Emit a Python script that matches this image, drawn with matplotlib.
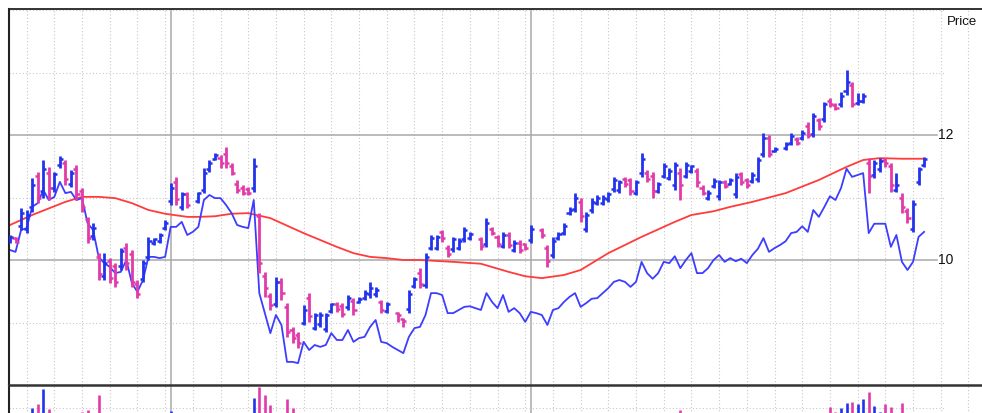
import numpy as np
import matplotlib
matplotlib.use("Agg")
import matplotlib.pyplot as plt

# daily bars, None = no bar drawn that day
highs = [10.40, 10.37, 10.83, 10.80, 11.31, 11.41, 11.60, 11.49, 11.41, 11.66,
         11.60, 11.44, 11.52, 11.15, 10.69, 10.59, 10.11, 10.11, 10.03, 9.95,
         10.19, 10.27, 10.16, 9.68, 10.00, 10.37, 10.35, 10.43, 10.64, 11.23,
         11.33, 11.09, 11.09, None, 11.09, 11.47, 11.60, 11.71, 11.68, 11.81,
         11.55, 11.28, 11.20, 11.17, 11.63, 10.75, 9.81, 9.47, 9.73, 9.71,
         9.31, 8.93, 8.85, 9.28, 9.47, 9.15, 9.17, 9.15, 9.31, 9.33,
         9.31, 9.44, 9.39, 9.41, 9.52, 9.65, 9.57, 9.36, 9.33, None,
         9.17, 9.07, 9.52, 9.73, 9.87, 10.11, 10.40, 10.40, 10.48, 10.24,
         10.37, 10.35, 10.53, 10.45, None, 10.37, 10.67, 10.53, 10.40, 10.45,
         10.45, 10.32, 10.32, 10.27, 10.56, None, 10.51, 10.24, 10.37, 10.45,
         10.59, 10.85, 11.07, 10.99, 10.77, 10.99, 11.04, 11.04, 11.09, 11.33,
         11.28, 11.33, 11.31, 11.28, 11.71, 11.44, 11.41, 11.25, 11.55, 11.47,
         11.57, 11.47, 11.57, 11.52, 11.47, 11.20, 11.12, 11.31, 11.28, 11.28,
         11.31, 11.39, 11.41, 11.31, 11.41, 11.65, 12.03, 12.00, 11.81, None,
         11.89, 12.03, 11.97, 12.08, 12.21, 12.35, 12.27, 12.53, 12.59, 12.51,
         12.69, 13.04, 12.85, 12.67, 12.67, 11.63, 11.60, 11.63, 11.63, 11.55,
         11.39, 11.07, 10.83, 10.96, 11.49, 11.65]
lows = [10.27, 10.27, 10.48, 10.43, 10.77, 10.91, 10.99, 10.96, 11.09, 11.47,
        11.20, 11.17, 10.96, 10.77, 10.27, 10.32, 9.68, 9.68, 9.63, 9.57,
        9.84, 9.84, 9.57, 9.39, 9.65, 10.00, 10.24, 10.27, 10.48, 10.88,
        10.88, 10.80, 10.83, None, 10.91, 11.07, 11.41, 11.60, 11.47, 11.47,
        11.36, 11.07, 11.04, 11.04, 11.09, 9.79, 9.41, 9.20, 9.25, 9.36,
        8.77, 8.67, 8.59, 8.96, 9.01, 8.88, 8.93, 8.85, 9.15, 9.17,
        9.09, 9.20, 9.12, 9.31, 9.36, 9.39, 9.41, 9.15, 9.15, None,
        9.01, 8.93, 9.15, 9.55, 9.55, 9.55, 10.16, 10.16, 10.29, 10.05,
        10.13, 10.16, 10.29, 10.32, None, 10.16, 10.21, 10.40, 10.21, 10.19,
        10.19, 10.13, 10.11, 10.16, 10.27, None, 10.35, 9.89, 10.03, 10.32,
        10.40, 10.72, 10.77, 10.61, 10.45, 10.75, 10.88, 10.88, 10.93, 11.09,
        11.07, 11.17, 11.04, 11.04, 11.33, 11.25, 10.99, 11.07, 11.31, 11.28,
        11.12, 10.96, 11.31, 11.39, 11.17, 11.04, 10.96, 11.15, 10.96, 11.15,
        11.20, 10.99, 11.20, 11.15, 11.23, 11.25, 11.65, 11.65, 11.73, None,
        11.76, 11.84, 11.84, 11.92, 11.95, 11.97, 12.08, 12.21, 12.45, 12.40,
        12.45, 12.64, 12.45, 12.48, 12.51, 11.07, 11.31, 11.41, 11.49, 11.09,
        11.09, 10.75, 10.59, 10.45, 11.20, 11.49]
opens = [10.30, 10.35, 10.55, 10.50, 10.85, 11.35, 11.10, 11.40, 11.15, 11.52,
         11.55, 11.22, 11.45, 11.10, 10.65, 10.38, 10.05, 9.75, 9.98, 9.90,
         9.90, 10.20, 10.10, 9.62, 9.70, 10.05, 10.27, 10.30, 10.52, 10.95,
         11.25, 10.85, 11.05, None, 10.95, 11.12, 11.45, 11.62, 11.64, 11.70,
         11.50, 11.22, 11.15, 11.14, 11.15, 10.70, 9.75, 9.42, 9.30, 9.65,
         9.25, 8.88, 8.80, 9.00, 9.40, 8.92, 8.98, 8.90, 9.18, 9.30,
         9.27, 9.25, 9.35, 9.33, 9.40, 9.45, 9.45, 9.33, 9.18, None,
         9.15, 9.05, 9.22, 9.58, 9.80, 9.60, 10.20, 10.20, 10.45, 10.20,
         10.18, 10.20, 10.33, 10.35, None, 10.33, 10.25, 10.50, 10.37, 10.22,
         10.40, 10.16, 10.28, 10.25, 10.32, None, 10.48, 10.20, 10.08, 10.35,
         10.43, 10.75, 10.82, 10.93, 10.50, 10.80, 10.92, 10.92, 10.97, 11.14,
         11.12, 11.30, 11.28, 11.08, 11.40, 11.40, 11.35, 11.10, 11.35, 11.32,
         11.20, 11.40, 11.35, 11.42, 11.42, 11.15, 11.00, 11.18, 11.02, 11.25,
         11.22, 11.05, 11.37, 11.28, 11.26, 11.30, 11.70, 11.95, 11.75, None,
         11.79, 11.88, 11.94, 11.95, 12.15, 12.02, 12.24, 12.26, 12.55, 12.48,
         12.50, 12.70, 12.80, 12.52, 12.54, 11.55, 11.36, 11.45, 11.60, 11.50,
         11.12, 11.00, 10.78, 10.50, 11.25, 11.52]
closes = [10.37, 10.29, 10.75, 10.72, 11.20, 11.00, 11.45, 11.15, 11.38, 11.62,
          11.30, 11.40, 11.05, 10.85, 10.35, 10.52, 9.78, 9.95, 9.72, 9.65,
          10.15, 9.95, 9.65, 9.45, 9.95, 10.30, 10.33, 10.40, 10.60, 11.15,
          10.98, 11.05, 10.88, None, 11.07, 11.40, 11.55, 11.68, 11.55, 11.55,
          11.40, 11.12, 11.08, 11.07, 11.50, 9.95, 9.55, 9.28, 9.65, 9.48,
          8.85, 8.75, 8.68, 9.20, 9.10, 9.12, 9.12, 9.12, 9.29, 9.22,
          9.14, 9.40, 9.20, 9.38, 9.48, 9.55, 9.52, 9.20, 9.30, None,
          9.12, 9.02, 9.45, 9.70, 9.62, 10.05, 10.35, 10.37, 10.35, 10.10,
          10.33, 10.30, 10.48, 10.42, None, 10.22, 10.60, 10.44, 10.26, 10.40,
          10.24, 10.28, 10.16, 10.20, 10.50, None, 10.40, 9.98, 10.30, 10.42,
          10.55, 10.80, 11.00, 10.70, 10.72, 10.93, 11.00, 11.00, 11.05, 11.28,
          11.25, 11.22, 11.10, 11.25, 11.62, 11.30, 11.10, 11.22, 11.50, 11.43,
          11.52, 11.20, 11.52, 11.50, 11.25, 11.08, 11.08, 11.27, 11.25, 11.18,
          11.28, 11.33, 11.25, 11.20, 11.36, 11.60, 11.95, 11.70, 11.78, None,
          11.85, 11.98, 11.88, 12.04, 12.00, 12.30, 12.15, 12.50, 12.50, 12.44,
          12.62, 12.85, 12.50, 12.55, 12.62, 11.35, 11.55, 11.58, 11.55, 11.20,
          11.20, 10.85, 10.67, 10.90, 11.45, 11.62]

# relative strength line (drawn on the price scale)
rs_line = [10.16, 10.13, 10.48, 10.51, 10.85, 10.91, 11.12, 10.96, 11.01, 11.25,
           11.07, 11.09, 10.96, 10.99, 10.59, 10.48, 10.05, 9.95, 9.89, 9.79,
           9.81, 10.00, 9.63, 9.49, 9.68, 10.05, 10.05, 10.03, 10.05, 10.53,
           10.53, 10.61, 10.40, 10.45, 10.53, 10.96, 11.04, 10.99, 10.99, 10.88,
           10.75, 10.56, 10.53, 10.51, 10.96, 9.47, 9.15, 8.83, 9.12, 8.96,
           8.37, 8.37, 8.35, 8.69, 8.56, 8.64, 8.61, 8.64, 8.83, 8.72,
           8.72, 8.88, 8.69, 8.75, 8.77, 8.93, 9.04, 8.69, 8.67, 8.61,
           8.56, 8.51, 8.77, 8.91, 8.93, 9.12, 9.47, 9.47, 9.44, 9.15,
           9.15, 9.20, 9.25, 9.26, 9.23, 9.20, 9.47, 9.33, 9.23, 9.44,
           9.17, 9.23, 9.15, 9.01, 9.17, 9.15, 9.12, 8.96, 9.20, 9.23,
           9.33, 9.41, 9.47, 9.25, 9.31, 9.38, 9.39, 9.47, 9.55, 9.65,
           9.68, 9.65, 9.57, 9.65, 9.97, 9.79, 9.70, 9.79, 9.97, 9.95,
           10.06, 9.87, 10.00, 10.11, 9.79, 9.79, 9.87, 10.00, 10.08, 9.97,
           10.03, 9.98, 10.02, 9.95, 10.08, 10.18, 10.35, 10.13, 10.19, 10.24,
           10.30, 10.43, 10.45, 10.54, 10.45, 10.80, 10.69, 10.85, 11.02, 10.96,
           11.15, 11.46, 11.33, 11.36, 11.39, 10.43, 10.58, 10.58, 10.58, 10.21,
           10.40, 9.97, 9.84, 9.97, 10.37, 10.45]

# moving average, read at these bar numbers
ma_bars = [1, 5, 11, 14, 17, 20, 23, 26, 29, 33, 35, 38, 41, 44, 48, 54, 60, 63,
           66, 69, 72, 75, 81, 86, 91, 94, 97, 101, 104, 109, 115, 121, 124, 128,
           131, 135, 141, 147, 152, 155, 158, 162, 166]
ma_vals = [10.56, 10.72, 10.93, 11.01, 11.01, 10.99, 10.91, 10.80, 10.74, 10.69,
           10.69, 10.70, 10.74, 10.75, 10.67, 10.43, 10.21, 10.11, 10.05, 10.03,
           10.00, 10.00, 9.97, 9.94, 9.81, 9.74, 9.71, 9.76, 9.84, 10.11, 10.37,
           10.61, 10.72, 10.78, 10.85, 10.93, 11.07, 11.28, 11.49, 11.60, 11.63,
           11.62, 11.62]

# volume (thousands), only the tops show in the panel
volume = [700, 640, 780, 820, 900, 917, 983, 896, 760, 680,
          720, 610, 790, 883, 891, 820, 957, 840, 760, 700,
          650, 720, 810, 780, 690, 740, 560, 600, 650, 887,
          820, 700, 640, None, 580, 760, 690, 620, 600, 720,
          680, 740, 700, 660, 943, 991, 957, 913, 860, 830,
          939, 900, 850, 800, 840, 760, 700, 690, 620, 640,
          610, 680, 650, 590, 620, 700, 560, 680, 600, None,
          540, 560, 720, 760, 780, 850, 820, 700, 660, 640,
          610, 580, 640, 560, None, 600, 720, 580, 620, 600,
          640, 560, 600, 520, 700, None, 560, 760, 700, 620,
          660, 740, 800, 760, 700, 680, 620, 600, 640, 760,
          700, 660, 690, 620, 820, 720, 780, 640, 700, 660,
          760, 891, 740, 640, 700, 680, 620, 700, 720, 660,
          600, 740, 680, 640, 620, 760, 850, 820, 600, None,
          640, 720, 660, 700, 760, 840, 780, 860, 904, 883,
          900, 922, 926, 917, 939, 970, 909, 883, 917, 904,
          860, 922, 850, 870, 820, 760]

week_lines = list(range(4, 176, 5))
quarter_lines = [30, 95]
major_prices = [10, 12]
minor_prices = [9, 11, 13, 14]

blue = "#2233ee"
pink = "#e23aa8"

def arr(v):
    return np.array([np.nan if a is None else a for a in v], dtype=float)

h, l, o, c = arr(highs), arr(lows), arr(opens), arr(closes)
vol = arr(volume)
x = np.arange(1, len(highs) + 1)
ok = ~np.isnan(h)
cols = np.where(c > o, blue, pink)

W, H = 982, 413
fig = plt.figure(figsize=(W / 100, H / 100), dpi=100)
left = 9 / W
ax = fig.add_axes([left, 28 / H, 1 - left, 376 / H])
vax = fig.add_axes([left, (413 - 615) / H, 1 - left, 230 / H])
vax.patch.set_visible(False)
ax.set_zorder(2)
ax.patch.set_visible(False)
fig.patch.set_facecolor("white")

xlo, xhi = 0.82, 176.45
for a in (ax, vax):
    a.set_xlim(xlo, xhi)
    a.set_xticks([])
    a.set_yticks([])
    a.spines["right"].set_visible(False)
ax.set_ylim(8.0, 14.016)
vax.set_ylim(0, 1000)

ax.spines["top"].set_color("#222222")
ax.spines["top"].set_linewidth(1.3)
ax.spines["left"].set_color("#222222")
ax.spines["left"].set_linewidth(1.5)
ax.spines["bottom"].set_color("#333333")
ax.spines["bottom"].set_linewidth(1.8)
vax.spines["top"].set_visible(False)
vax.spines["bottom"].set_visible(False)
vax.spines["left"].set_color("#222222")
vax.spines["left"].set_linewidth(1.5)

dot = (0, (1, 2))
for a in (ax, vax):
    for wk in week_lines:
        a.axvline(wk, color="#c8c8c8", lw=0.8, ls=dot, zorder=0)
    for q in quarter_lines:
        a.axvline(q, color="#a8a8a8", lw=1.1, zorder=0)
for p in major_prices:
    ax.axhline(p, xmin=0, xmax=0.954, color="#a8a8a8", lw=1.1, zorder=0)
for p in minor_prices:
    ax.axhline(p, xmin=0, xmax=0.962, color="#c8c8c8", lw=0.8, ls=dot, zorder=0)
vax.axhline(900, xmin=0, xmax=0.962, color="#c8c8c8", lw=0.8, ls=dot, zorder=0)

# price bars
ax.vlines(x[ok], l[ok], h[ok], colors=cols[ok], lw=2.0, zorder=3)
ax.hlines(o[ok], x[ok] - 0.55, x[ok], colors=cols[ok], lw=1.8, zorder=3)
ax.hlines(c[ok], x[ok], x[ok] + 0.55, colors=cols[ok], lw=1.8, zorder=3)

ax.plot(ma_bars, ma_vals, color="#ff3b3b", lw=1.3, zorder=2)
ax.plot(x, rs_line, color="#3d3dff", lw=1.3, zorder=2)

# volume
vk = ~np.isnan(vol)
vax.vlines(x[vk], 0, vol[vk], colors=cols[vk], lw=1.9)

tr = ax.get_yaxis_transform()
for p in major_prices:
    ax.text(0.955, p, str(p), transform=tr, ha="left", va="center",
            fontsize=10, family="Liberation Sans", color="#111111")
ax.text(0.9945, 13.81, "Price", transform=tr, ha="right", va="center",
        fontsize=9.5, family="Liberation Sans", color="#111111")

fig.savefig("out.png", dpi=100)
